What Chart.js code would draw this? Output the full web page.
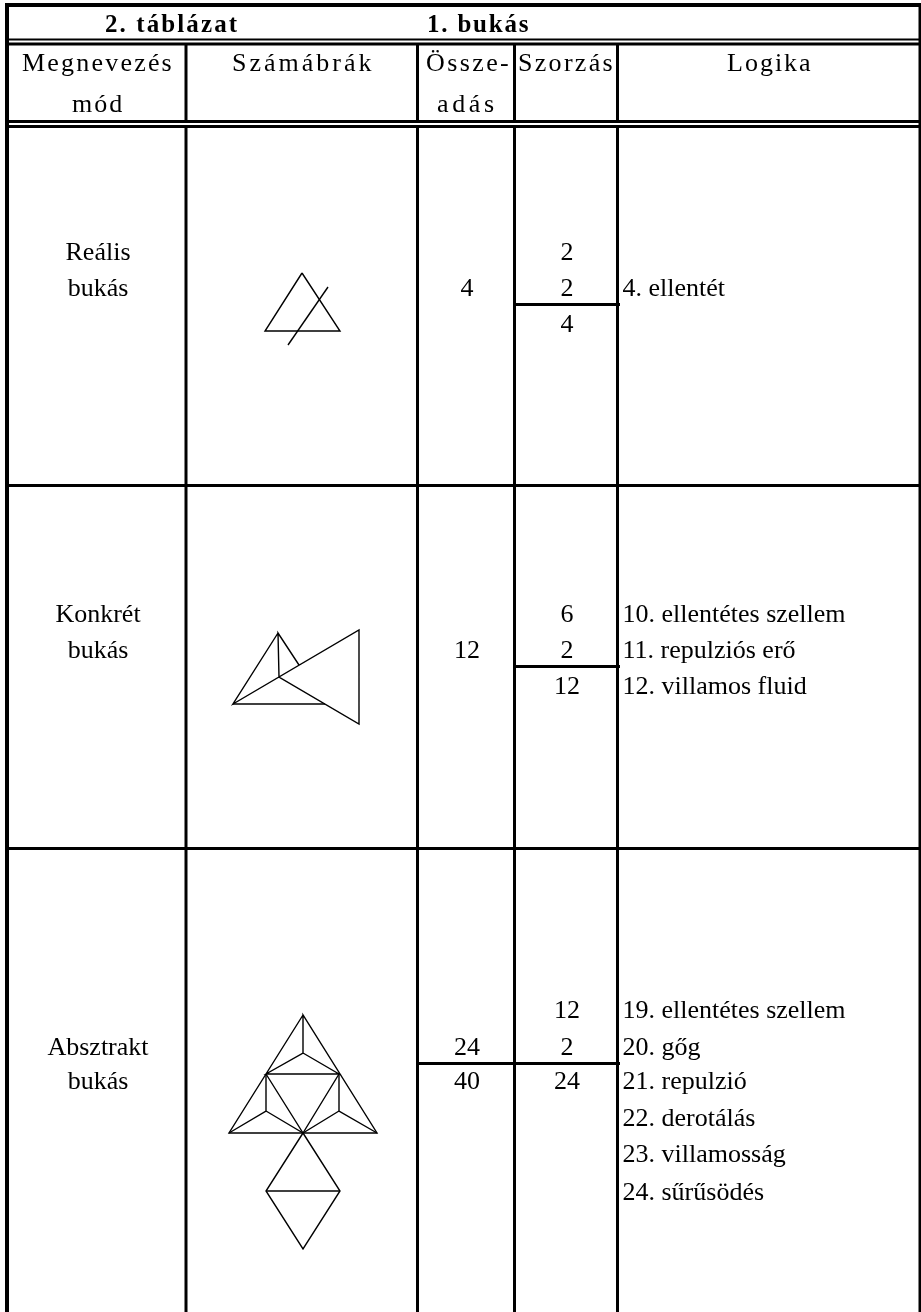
<!DOCTYPE html>
<html>
<head>
<meta charset="utf-8">
<title>2. táblázat</title>
<script src="https://cdn.jsdelivr.net/npm/chart.js@4"></script>
<style>
    html, body { margin: 0; padding: 0; background: #fff; }
    canvas { display: block; }
</style>
</head>
<body>
<canvas id="myChart" width="921" height="1312"></canvas>
<script>
// table content
var titleLeft = "2. táblázat";
var titleRight = "1. bukás";
var headers = ["Megnevezés", "mód", "Számábrák", "Össze-", "adás", "Szorzás", "Logika"];
var modes = [["Reális", "bukás"], ["Konkrét", "bukás"], ["Absztrakt", "bukás"]];
var addValues = [["4"], ["12"], ["24", "40"]];
var mulValues = [["2", "2", "4"], ["6", "2", "12"], ["12", "2", "24"]];
var logicItems = [
    ["4. ellentét"],
    ["10. ellentétes szellem", "11. repulziós erő", "12. villamos fluid"],
    ["19. ellentétes szellem", "20. gőg", "21. repulzió", "22. derotálás", "23. villamosság", "24. sűrűsödés"]
];

// figures: point lists, each one is a polyline in axis units
var figureReal = [
    [[302, 273], [265, 331], [340, 331], [302, 273]],
    [[328, 287], [288, 345]]
];
var figureConcrete = [
    [[278, 633], [233, 704], [359, 630], [359, 724], [279, 677], [278, 633], [299, 665]],
    [[233, 704], [325, 704]]
];
var figureAbstract = [
    [[303, 1015], [229, 1133], [377, 1133], [303, 1015], [303, 1053], [266, 1074], [339, 1074], [303, 1053]],
    [[266, 1074], [266, 1111], [229, 1133]],
    [[339, 1074], [339, 1111], [377, 1133]],
    [[266, 1074], [303, 1133], [339, 1074]],
    [[266, 1111], [303, 1133], [339, 1111]],
    [[303, 1133], [266, 1191], [303, 1249], [340, 1191], [303, 1133]],
    [[266, 1191], [340, 1191]]
];

// table rules
var columnRules = [186, 417.5, 514.5, 617.5];
var rowRules = [485.5, 848.5];
var frame = { left: 7, right: 920, top: 5, bottom: 1312 };

function line(points, width) {
    return {
        data: points.map(function (p) { return { x: p[0], y: p[1] }; }),
        showLine: true,
        borderColor: "#000",
        borderWidth: width,
        borderCapStyle: "butt",
        pointRadius: 0,
        tension: 0,
        clip: false
    };
}

var datasets = [];
datasets.push(line([[frame.left, 3], [frame.left, frame.bottom]], 4));
datasets.push(line([[frame.right, 3], [frame.right, frame.bottom]], 3));
datasets.push(line([[5, frame.top], [921, frame.top]], 4));
datasets.push(line([[5, 39.5], [921, 39.5]], 2));
datasets.push(line([[5, 44], [921, 44]], 3));
datasets.push(line([[5, 121.5], [921, 121.5]], 3));
datasets.push(line([[5, 126.5], [921, 126.5]], 3));
columnRules.forEach(function (x) {
    datasets.push(line([[x, 44], [x, 121]], 3));
    datasets.push(line([[x, 127], [x, frame.bottom]], 3));
});
rowRules.forEach(function (y) {
    datasets.push(line([[5, y], [921, y]], 3));
});
datasets.push(line([[515, 304.5], [620, 304.5]], 3));
datasets.push(line([[515, 666.5], [620, 666.5]], 3));
datasets.push(line([[417, 1063.5], [620, 1063.5]], 3));
figureReal.concat(figureConcrete, figureAbstract).forEach(function (f) {
    datasets.push(line(f, 1.4));
});

var textPlugin = {
    id: "tableText",
    afterDatasetsDraw: function (chart) {
        var ctx = chart.ctx;
        var sx = chart.scales.x;
        var sy = chart.scales.y;
        function put(text, x, y, align, font, spacing) {
            ctx.font = font;
            ctx.letterSpacing = (spacing || 0) + "px";
            ctx.textAlign = align;
            ctx.textBaseline = "alphabetic";
            ctx.fillStyle = "#000";
            ctx.fillText(text, sx.getPixelForValue(x), sy.getPixelForValue(y));
        }
        var body = "26px 'Liberation Serif'";
        var bold = "bold 25px 'Liberation Serif'";

        put(titleLeft, 105, 32, "left", bold, 2.1);
        put(titleRight, 427, 32, "left", bold, 1.8);

        put(headers[0], 22, 71, "left", body, 2.2);
        put(headers[1], 72, 112, "left", body, 2);
        put(headers[2], 232, 71, "left", body, 3);
        put(headers[3], 426, 71, "left", body, 2.4);
        put(headers[4], 437, 112, "left", body, 3.6);
        put(headers[5], 518, 71, "left", body, 2.3);
        put(headers[6], 727, 71, "left", body, 2);

        // baselines of every row
        var modeY = [[260, 296], [622, 658], [1055, 1089]];
        var addY = [[296], [658], [1055, 1089]];
        var mulY = [[260, 296, 332], [622, 658, 694], [1018, 1055, 1089]];
        var logicY = [[296], [622, 658, 694], [1018, 1055, 1089, 1126, 1162, 1200]];
        modes.forEach(function (m, i) {
            m.forEach(function (t, j) { put(t, 98, modeY[i][j], "center", body); });
            addValues[i].forEach(function (t, j) { put(t, 467, addY[i][j], "center", body); });
            mulValues[i].forEach(function (t, j) { put(t, 567, mulY[i][j], "center", body); });
            logicItems[i].forEach(function (t, j) { put(t, 622.5, logicY[i][j], "left", body); });
        });
    }
};

var ctx = document.getElementById("myChart").getContext("2d");
var myChart = new Chart(ctx, {
    type: "scatter",
    data: { datasets: datasets },
    options: {
        responsive: false,
        animation: false,
        layout: { padding: 0 },
        plugins: { legend: { display: false }, tooltip: { enabled: false } },
        scales: {
            x: { type: "linear", min: 0, max: 921, display: false },
            y: { type: "linear", min: 0, max: 1312, reverse: true, display: false }
        }
    },
    plugins: [textPlugin]
});
</script>
</body>
</html>
